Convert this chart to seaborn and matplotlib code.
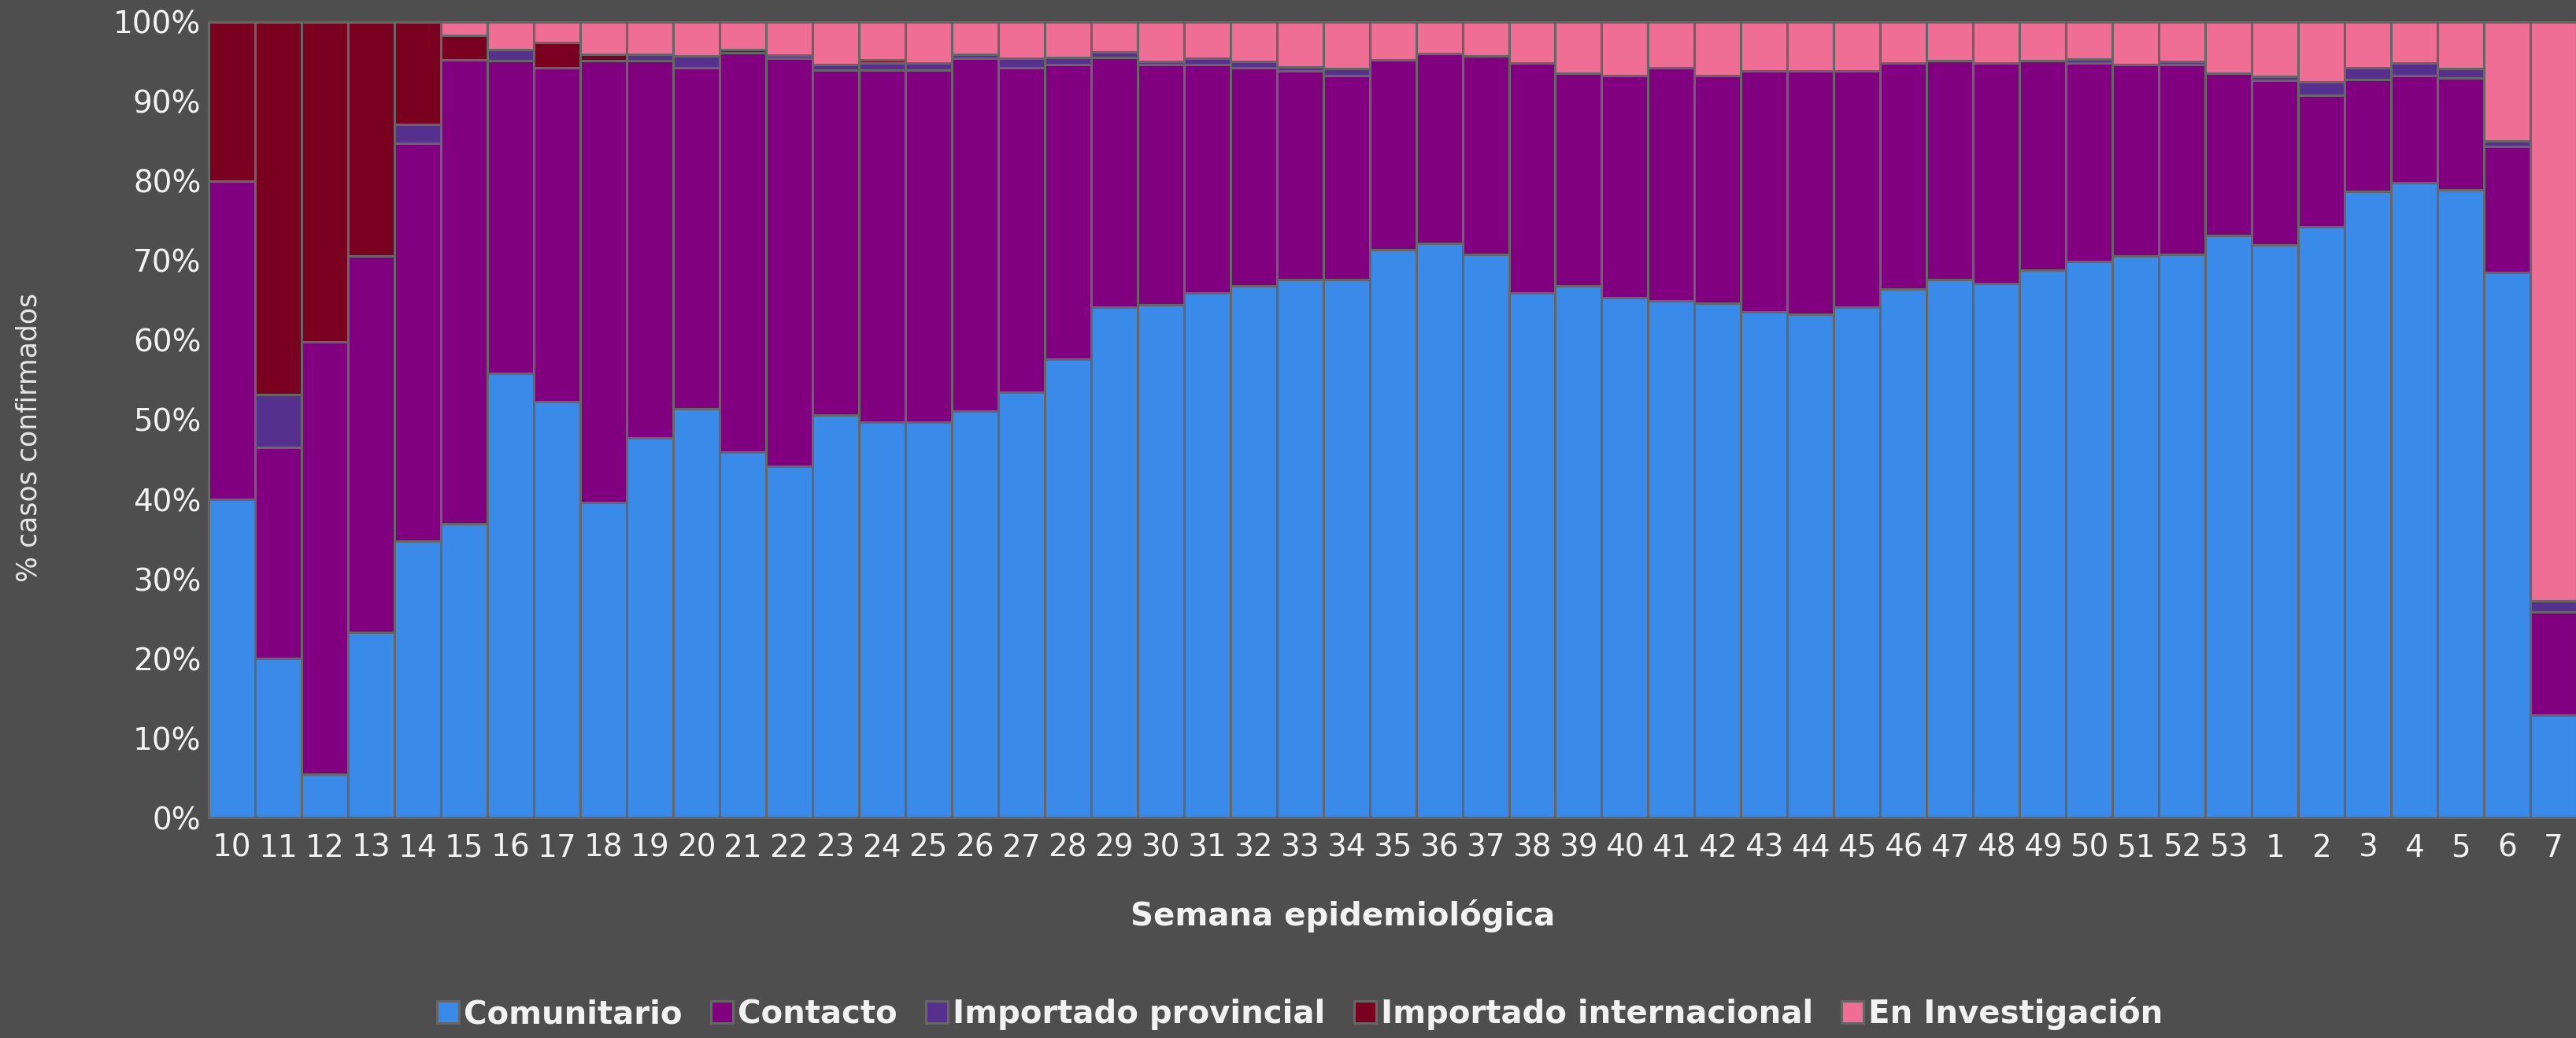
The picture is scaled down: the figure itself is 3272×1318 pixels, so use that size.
import matplotlib
matplotlib.use("Agg")
import matplotlib.pyplot as plt
from matplotlib.patches import Patch
from matplotlib.ticker import PercentFormatter, MultipleLocator
import numpy as np
import pandas as pd
import seaborn as sns

weeks = [str(w) for w in range(10, 54)] + [str(w) for w in range(1, 8)]

comunitario = [40, 20, 5.5, 23.3, 34.7, 36.9, 55.8, 52.3, 39.6, 47.7,
               51.4, 45.9, 44.2, 50.6, 49.7, 49.7, 51.1, 53.5, 57.6, 64.2,
               64.5, 65.9, 66.8, 67.6, 67.6, 71.4, 72.2, 70.8, 65.9, 66.8,
               65.3, 64.9, 64.7, 63.6, 63.3, 64.2, 66.4, 67.6, 67.1, 68.8,
               69.9, 70.6, 70.8, 73.2,
               72.0, 74.3, 78.7, 79.8, 78.9, 68.5, 12.9]
contacto = [40, 26.5, 54.3, 47.3, 50.0, 58.3, 39.3, 42.0, 55.5, 47.4,
            42.9, 50.2, 51.2, 43.4, 44.3, 44.3, 44.3, 40.8, 37.0, 31.3,
            30.1, 28.7, 27.5, 26.3, 25.7, 23.8, 23.8, 24.9, 28.9, 26.8,
            28.0, 29.4, 28.6, 30.3, 30.6, 29.7, 28.4, 27.5, 27.7, 26.3,
            24.9, 24.0, 23.8, 20.4,
            20.7, 16.5, 14.1, 13.5, 14.1, 15.9, 12.9]
importado_provincial = [0, 6.7, 0, 0, 2.3, 0, 1.4, 0, 0, 0.8,
                        1.4, 0, 0.4, 0.6, 0.8, 0.8, 0.5, 1.1, 0.9, 0.7,
                        0.4, 0.8, 0.7, 0.5, 0.9, 0, 0, 0, 0, 0,
                        0, 0, 0, 0, 0, 0, 0, 0, 0, 0,
                        0.5, 0, 0.4, 0,
                        0.5, 1.7, 1.5, 1.5, 1.2, 0.6, 1.4]
importado_internacional = [20, 46.8, 40.2, 29.4, 12.9, 3.1, 0, 3.1, 0.8, 0,
                           0, 0.4, 0, 0, 0.4, 0, 0, 0, 0, 0,
                           0, 0, 0, 0, 0, 0, 0, 0, 0, 0,
                           0, 0, 0, 0, 0, 0, 0, 0, 0, 0,
                           0, 0, 0, 0,
                           0, 0, 0, 0, 0, 0, 0]
en_investigacion = [0, 0, 0, 0, 0, 1.7, 3.5, 2.6, 4.1, 4.1,
                    4.3, 3.5, 4.2, 5.4, 4.8, 5.2, 4.1, 4.6, 4.5, 3.8,
                    5.0, 4.6, 5.0, 5.6, 5.8, 4.8, 4.0, 4.3, 5.2, 6.4,
                    6.7, 5.7, 6.7, 6.1, 6.1, 6.1, 5.2, 4.9, 5.2, 4.9,
                    4.7, 5.4, 5.0, 6.4,
                    6.8, 7.5, 5.7, 5.2, 5.8, 15.0, 72.8]

series = ["Comunitario", "Contacto", "Importado provincial",
          "Importado internacional", "En Investigación"]
colors = ["#3a8aea", "#800080", "#56308f", "#7a0020", "#f06e96"]

bg = "#4e4e4e"
edge = "#666666"
txt = "#f2f2f2"

df = pd.DataFrame({
    "pos": np.arange(len(weeks)),
    "Comunitario": comunitario,
    "Contacto": contacto,
    "Importado provincial": importado_provincial,
    "Importado internacional": importado_internacional,
    "En Investigación": en_investigacion,
})
long = df.melt(id_vars="pos", var_name="tipo", value_name="pct")

sns.set_theme(style="dark", rc={"figure.facecolor": bg, "axes.facecolor": bg,
                                "axes.edgecolor": edge, "text.color": txt,
                                "xtick.color": txt, "ytick.color": txt,
                                "axes.labelcolor": txt})
plt.rcParams["font.family"] = ["DejaVu Sans"]

fig, ax = plt.subplots(figsize=(32.73, 13.18), dpi=100)
fig.subplots_adjust(left=0.081, right=1.0, bottom=0.2124, top=0.9788)

# seaborn stacks the first hue level on top, so pass the order reversed
sns.histplot(data=long, x="pos", hue="tipo", weights="pct", multiple="fill",
             discrete=True, shrink=1, hue_order=series[::-1],
             palette=dict(zip(series, colors)), edgecolor=edge, linewidth=2.2,
             alpha=1, legend=False, ax=ax)

ax.set_xlim(-0.5, len(weeks) - 0.5)
ax.set_ylim(0, 1)
ax.set_xticks(range(len(weeks)))
ax.set_xticklabels(weeks, fontsize=28)
ax.yaxis.set_major_locator(MultipleLocator(0.1))
ax.yaxis.set_major_formatter(PercentFormatter(xmax=1, decimals=0))
ax.tick_params(axis="y", labelsize=28, length=0, pad=7)
ax.tick_params(axis="x", length=0, pad=14)
for s in ax.spines.values():
    s.set_color(edge)
    s.set_linewidth(2.2)

ax.set_xlabel("Semana epidemiológica", fontsize=29, fontweight="bold")
ax.set_ylabel("% casos confirmados", fontsize=25, color="#e6e6e6")
ax.xaxis.set_label_coords(0.479, -0.103)
ax.yaxis.set_label_coords(-0.0705, 0.478)

handles = [Patch(facecolor=c, edgecolor=edge, linewidth=2.2) for c in colors]
fig.legend(handles, series, loc="center", bbox_to_anchor=(0.5045, 0.0235),
           ncol=5, frameon=False, prop={"size": 29, "weight": "bold"},
           handlelength=0.7, handleheight=0.7, handletextpad=0.15,
           columnspacing=0.9)

fig.savefig("out.png", dpi=100, facecolor=bg)
